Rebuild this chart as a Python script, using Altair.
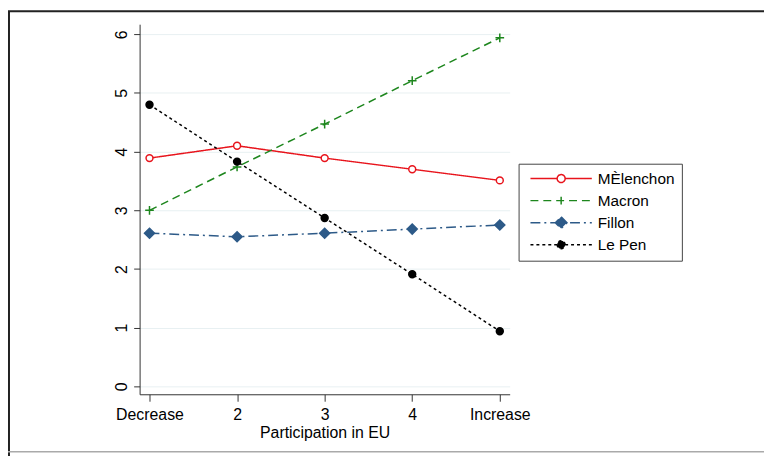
import altair as alt
import pandas as pd

# ---- data ----
series_names = ["MÈlenchon", "Macron", "Fillon", "Le Pen"]
x_positions = [1, 2, 3, 4, 5]
x_labels = ["Decrease", "2", "3", "4", "Increase"]
melenchon = [3.89, 4.10, 3.89, 3.70, 3.51]
macron = [3.00, 3.74, 4.47, 5.21, 5.94]
fillon = [2.61, 2.55, 2.61, 2.68, 2.75]
lepen = [4.80, 3.83, 2.87, 1.91, 0.94]
y_ticks = [0, 1, 2, 3, 4, 5, 6]

# ---- styles ----
colors = ["#e8141c", "#1d861d", "#2d5a88", "#000000"]
dashes = [[1, 0], [8, 5], [10, 4, 2, 4], [3, 3]]
fills = ["#ffffff", "transparent", "#2d5a88", "#000000"]
plus_path = "M-1.25,0H1.25M0,-1.25V1.25"
diamond_path = "M0,-1.45L1.45,0L0,1.45L-1.45,0Z"
marker_shapes = ["circle", plus_path, diamond_path, "circle"]

# legend symbols: line with the marker in its middle (units: +-1 = half width)
legend_shapes = [
    "M-1,0H-0.13M0.13,0H1M0.13,0A0.13,0.13 0 1,0 -0.13,0A0.13,0.13 0 1,0 0.13,0Z",
    "M-1,0H1M0,-0.13V0.13",
    "M-1,0H1M0,-0.19L0.19,0L0,0.19L-0.19,0Z",
    "M-1,0H-0.13M0.13,0H1M0.13,0A0.13,0.13 0 1,0 -0.13,0A0.13,0.13 0 1,0 0.13,0Z",
]

rows = []
for name, vals in zip(series_names, [melenchon, macron, fillon, lepen]):
    for xv, yv in zip(x_positions, vals):
        rows.append({"series": name, "x": xv, "value": yv})
df = pd.DataFrame(rows)

label_expr = "[" + ",".join("'" + s + "'" for s in x_labels) + "][datum.value - 1]"

FONT = "Liberation Sans"

x_enc = alt.X(
    "x:Q",
    scale=alt.Scale(domain=[0.887, 5.113], nice=False, zero=False),
    axis=alt.Axis(
        values=x_positions, labelExpr=label_expr, title="Participation in EU",
        grid=False, tickSize=7, labelPadding=5, titlePadding=3,
        labelFontSize=16, titleFontSize=16, titleFontWeight="normal",
    ),
)
y_enc = alt.Y(
    "value:Q",
    scale=alt.Scale(domain=[-0.135, 6.172], nice=False, zero=False),
    axis=alt.Axis(
        values=y_ticks, format="d", title=None, grid=True, gridColor="#e8f0f2",
        tickSize=6, labelAngle=270, labelAlign="center", labelBaseline="bottom",
        labelPadding=4.5, labelFontSize=16,
    ),
)

col_scale = alt.Scale(domain=series_names, range=colors)
dash_scale = alt.Scale(domain=series_names, range=dashes)
fill_scale = alt.Scale(domain=series_names, range=fills)

base = alt.Chart(df)

lines = base.mark_line(strokeWidth=1.5).encode(
    x=x_enc, y=y_enc,
    color=alt.Color("series:N", scale=col_scale, legend=None),
    strokeDash=alt.StrokeDash("series:N", scale=dash_scale, legend=None),
    detail="series:N",
)

points = base.mark_point(opacity=1, strokeWidth=1.5, size=49).encode(
    x=x_enc, y=y_enc,
    color=alt.Color("series:N", scale=col_scale, legend=None),
    fill=alt.Fill("series:N", scale=fill_scale, legend=None),
    shape=alt.Shape("series:N", scale=alt.Scale(domain=series_names, range=marker_shapes), legend=None),
)

legend_layer = base.transform_filter("false").mark_point(opacity=1, strokeWidth=1.5).encode(
    color=alt.Color("series:N", scale=col_scale, title=None),
    fill=alt.Fill("series:N", scale=fill_scale, title=None),
    strokeDash=alt.StrokeDash("series:N", scale=dash_scale, title=None),
    shape=alt.Shape("series:N", scale=alt.Scale(domain=series_names, range=legend_shapes), title=None),
)

frame_df = pd.DataFrame({"frame": [0]})
frame = alt.Chart(frame_df).mark_rect(fill="transparent", stroke="#222222", strokeWidth=2).encode(
    x=alt.value(-132), x2=alt.value(700), y=alt.value(-13), y2=alt.value(460)
)
bottom_line = alt.Chart(frame_df).mark_rule(color="#aaaaaa", strokeWidth=1.5).encode(
    x=alt.value(-133), x2=alt.value(700), y=alt.value(432)
)

chart = (
    alt.layer(frame, bottom_line, lines, points, legend_layer)
    .resolve_scale(color="independent", fill="independent", strokeDash="independent", shape="independent")
    .properties(
        width=374, height=374,
        padding={"left": 133, "top": 14, "right": 257, "bottom": 60},
        autosize=alt.AutoSizeParams(type="none"),
    )
    .configure_view(stroke=None)
    .configure_axis(
        labelFont=FONT, titleFont=FONT, labelColor="#000000", titleColor="#000000",
        domainColor="#333333", tickColor="#333333", domainWidth=1, tickWidth=1,
    )
    .configure_legend(
        orient="none", legendX=383, legendY=141, padding=7,
        strokeColor="#444444", fillColor="#ffffff",
        labelFont=FONT, labelFontSize=15.5, labelColor="#000000", labelOffset=5,
        symbolSize=3844, symbolStrokeWidth=1.5, clipHeight=16, rowPadding=5.3,
        symbolOffset=4,
    )
)

chart.save("out.html", embed_options={"renderer": "svg", "actions": False})
